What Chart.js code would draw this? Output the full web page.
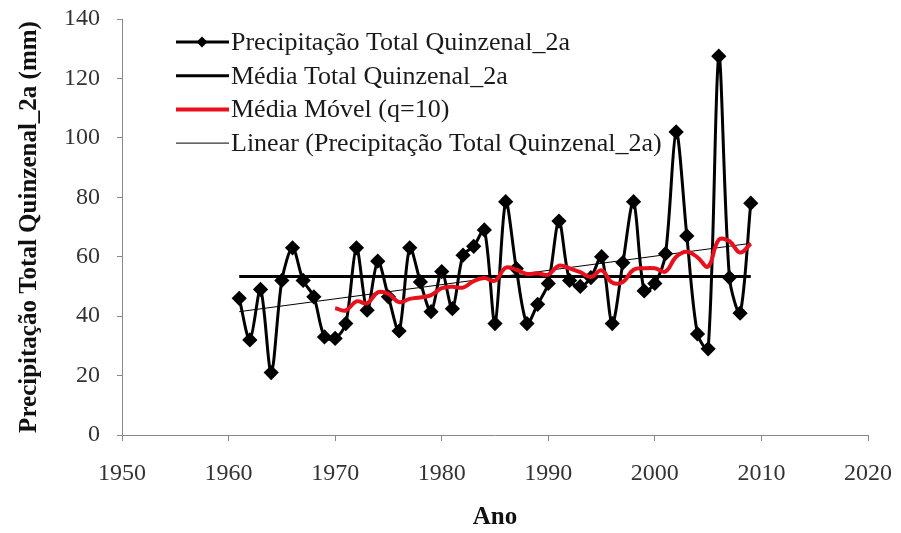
<!DOCTYPE html>
<html>
<head>
<meta charset="utf-8">
<script src="https://cdn.jsdelivr.net/npm/chart.js@4.4.1/dist/chart.umd.min.js"></script>
<style>
  html, body { margin: 0; padding: 0; background: #fff; }
  #wrap { width: 901px; height: 533px; position: relative; }
</style>
</head>
<body>
<div id="wrap"><canvas id="myChart"></canvas></div>
<script>
// anos da serie
let years = [1961,1962,1963,1964,1965,1966,1967,1968,1969,1970,
             1971,1972,1973,1974,1975,1976,1977,1978,1979,1980,
             1981,1982,1983,1984,1985,1986,1987,1988,1989,1990,
             1991,1992,1993,1994,1995,1996,1997,1998,1999,2000,
             2001,2002,2003,2004,2005,2006,2007,2008,2009];
// precipitacao total quinzenal (mm)
let precip = [46,32,49,21,52,63,52,46.5,33,32.5,
              37.5,63,42,58.5,46.5,35,63,51.5,41.5,55,
              42.5,60.5,63.5,69,37.5,78.5,56,37.5,44,51,
              72,52,50,53,60,37.5,58,78.5,48.5,51,
              61,102,67,34,29,127.5,53,41,78];
// media total (linha horizontal)
let mediaTotal = 53.3;
// media movel q=10, de 1970 a 2009
let mmYears = years.slice(9);
let mediaMovel = [42.7,41.9,45.0,44.3,48.0,47.5,44.7,45.8,46.3,47.1,
                  49.4,49.9,49.6,51.8,52.8,51.9,56.3,55.6,54.2,54.4,
                  54.0,57.0,56.1,54.8,53.2,55.4,51.3,51.5,55.6,56.1,
                  56.1,55.0,60.0,61.7,59.8,56.7,65.7,65.2,61.4,64.4];
// linha de tendencia (extremos)
let trendYears = [1961, 2009];
let trendVals = [41.5, 64.5];
// ticks
let xTicks = [1950,1960,1970,1980,1990,2000,2010,2020];
let yTicks = [0,20,40,60,80,100,120,140];

const serif = '"Liberation Serif", "Times New Roman", serif';

// legenda estilo excel
const legendPlugin = {
  id: 'excelLegend',
  afterDraw(chart) {
    const ctx = chart.ctx;
    ctx.save();
    ctx.font = '26px ' + serif;
    ctx.textBaseline = 'middle';
    chart.data.datasets.forEach((ds, i) => {
      const y = 42 + i * 33.7;
      ctx.strokeStyle = ds.borderColor;
      ctx.lineWidth = ds.borderWidth;
      ctx.beginPath();
      ctx.moveTo(176, y);
      ctx.lineTo(229, y);
      ctx.stroke();
      if (ds.pointRadius > 0) {
        const r = ds.pointRadius;
        ctx.fillStyle = ds.pointBackgroundColor;
        ctx.beginPath();
        ctx.moveTo(202, y - r);
        ctx.lineTo(202 + r, y);
        ctx.lineTo(202, y + r);
        ctx.lineTo(202 - r, y);
        ctx.closePath();
        ctx.fill();
      }
      ctx.fillStyle = '#1a1a1a';
      ctx.fillText(ds.label, 231, y + 1);
    });
    ctx.restore();
  }
};

let ctx = document.getElementById('myChart').getContext('2d');

var chart = new Chart(ctx, {
  type: 'line',
  data: {
    datasets: [
      {
        label: 'Precipitação Total Quinzenal_2a',
        data: precip.map((v, i) => ({ x: years[i], y: v })),
        borderColor: '#000',
        borderWidth: 3,
        pointStyle: 'rectRot',
        pointRadius: 5.5,
        pointBackgroundColor: '#000',
        pointBorderColor: '#000',
        tension: 0.3,
        order: 1
      },
      {
        label: 'Média Total Quinzenal_2a',
        data: [{ x: years[0], y: mediaTotal }, { x: years[years.length - 1], y: mediaTotal }],
        borderColor: '#000',
        borderWidth: 3,
        pointRadius: 0,
        order: 2
      },
      {
        label: 'Média Móvel (q=10)',
        data: mediaMovel.map((v, i) => ({ x: mmYears[i], y: v })),
        borderColor: '#e8101a',
        borderWidth: 4,
        pointRadius: 0,
        tension: 0.4,
        order: 0
      },
      {
        label: 'Linear (Precipitação Total Quinzenal_2a)',
        data: trendVals.map((v, i) => ({ x: trendYears[i], y: v })),
        borderColor: '#000',
        borderWidth: 1,
        pointRadius: 0,
        order: 3
      }
    ]
  },
  options: {
    responsive: true,
    maintainAspectRatio: false,
    animation: false,
    layout: { padding: { left: 0, right: 33, top: 19, bottom: 0 } },
    plugins: { legend: { display: false }, tooltip: { enabled: false } },
    scales: {
      x: {
        type: 'linear',
        min: 1950,
        max: 2020,
        afterBuildTicks(s) { s.ticks = xTicks.map(v => ({ value: v })); },
        ticks: {
          color: '#333',
          font: { family: serif, size: 24 },
          padding: 18,
          callback: v => String(v)
        },
        grid: { drawOnChartArea: false, tickLength: 6, color: '#888' },
        border: { color: '#888', width: 1 },
        title: {
          display: true,
          text: 'Ano',
          color: '#111',
          font: { family: serif, size: 25, weight: 'bold' },
          padding: { top: 0, bottom: 0 }
        },
        afterFit(s) {
          s.height = 98;
          s.paddingLeft = 0;
          s.paddingRight = 0;
        }
      },
      y: {
        min: 0,
        max: 140,
        afterBuildTicks(s) { s.ticks = yTicks.map(v => ({ value: v })); },
        ticks: {
          color: '#333',
          font: { family: serif, size: 24 },
          padding: 17
        },
        grid: { drawOnChartArea: false, tickLength: 5, color: '#888' },
        border: { color: '#888', width: 1 },
        title: {
          display: true,
          text: 'Precipitação Total Quinzenal_2a (mm)',
          color: '#111',
          font: { family: serif, size: 25, weight: 'bold' },
          padding: { top: 15, bottom: 0 }
        },
        afterFit(s) {
          s.width = 122;
          s.paddingTop = 0;
          s.paddingBottom = 0;
        }
      }
    }
  },
  plugins: [legendPlugin]
});
</script>
</body>
</html>
